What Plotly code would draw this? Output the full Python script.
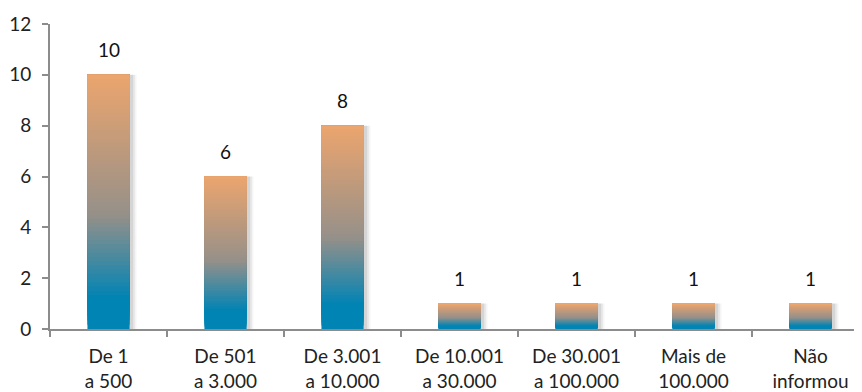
import plotly.graph_objects as go

categories = ["De 1<br>a 500", "De 501<br>a 3.000", "De 3.001<br>a 10.000",
              "De 10.001<br>a 30.000", "De 30.001<br>a 100.000",
              "Mais de<br>100.000", "Não<br>informou"]
values = [10, 6, 8, 1, 1, 1, 1]
y_ticks = [0, 2, 4, 6, 8, 10, 12]

# gradient stops (fraction of bar height -> colour)
stops = [(0.0, (0, 132, 180)), (0.12, (0, 132, 180)), (0.45, (150, 144, 137)), (1.0, (236, 165, 110))]


def grad(t):
    for (a, ca), (b, cb) in zip(stops[:-1], stops[1:]):
        if a <= t <= b:
            f = 0 if b == a else (t - a) / (b - a)
            c = [round(ca[i] + (cb[i] - ca[i]) * f) for i in range(3)]
            return "rgb(%d,%d,%d)" % tuple(c)
    return "rgb(%d,%d,%d)" % stops[-1][1]


FONT = "Lato, 'Open Sans', sans-serif"
W = 0.36
fig = go.Figure()

# soft shadow
for dx, op in [(0.06, 0.04), (0.045, 0.06), (0.03, 0.07)]:
    fig.add_trace(go.Bar(x=categories, y=values, width=W, offset=-W / 2 + dx,
                         marker=dict(color="rgba(0,0,0,%.2f)" % op, line=dict(width=0)),
                         hoverinfo="skip", showlegend=False))

# gradient: each slice runs from its base to the bar top, later slices cover earlier
N = 60
for k in range(N):
    fig.add_trace(go.Bar(
        x=categories,
        y=[v * (N - k) / N for v in values],
        base=[v * k / N for v in values],
        width=W,
        marker=dict(color=grad((k + 0.5) / N), line=dict(width=0)),
        hoverinfo="skip", showlegend=False))

for c, v in zip(categories, values):
    fig.add_annotation(x=c, y=v, text=str(v), showarrow=False, yanchor="bottom",
                       yshift=12, font=dict(family=FONT, size=19, color="#111"))

fig.update_layout(
    width=854, height=384,
    margin=dict(l=42, r=0, t=16, b=63),
    barmode="overlay",
    plot_bgcolor="white", paper_bgcolor="white",
    font=dict(family=FONT, size=19, color="#222"),
    xaxis=dict(type="category", range=[-0.5, 6.44], showline=True, linecolor="#8c8c8c",
               linewidth=2, ticks="outside", tickson="boundaries", ticklen=6,
               tickcolor="#8c8c8c", tickwidth=2, showgrid=False, automargin=False,
               ticklabelstandoff=9,
               tickfont=dict(family=FONT, size=19, color="#222")),
    yaxis=dict(range=[0, 12], tickvals=y_ticks, showline=True, linecolor="#8c8c8c",
               linewidth=2, ticks="outside", ticklen=6, tickcolor="#8c8c8c",
               tickwidth=2, showgrid=False, zeroline=False, ticklabelstandoff=7,
               automargin=False,
               tickfont=dict(family=FONT, size=19, color="#222")),
)

fig.write_html("out.html")
